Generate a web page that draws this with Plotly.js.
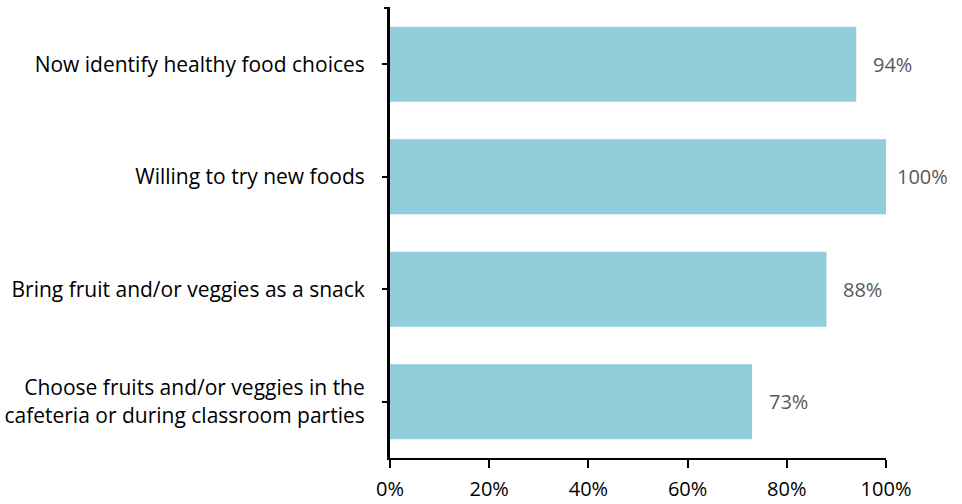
<!DOCTYPE html>
<html>
<head>
<meta charset="utf-8">
<script src="https://cdn.plot.ly/plotly-3.0.1.min.js"></script>
<style>html,body{margin:0;padding:0;background:#fff;}#chart{width:962px;height:504px;}</style>
</head>
<body>
<div id="chart"></div>
<script>
const categories = [
  "Now identify healthy food choices",
  "Willing to try new foods",
  "Bring fruit and/or veggies as a snack",
  "Choose fruits and/or veggies in the<br>cafeteria or during classroom parties"
];
const values = [0.94, 1.00, 0.88, 0.73];
const valueLabels = ["94%", "100%", "88%", "73%"];
const xTickVals = [0, 0.2, 0.4, 0.6, 0.8, 1.0];
const xTickText = ["0%", "20%", "40%", "60%", "80%", "100%"];

const FONT = "'Open Sans', Lato, sans-serif";

const trace = {
  type: "bar",
  orientation: "h",
  y: categories,
  x: values,
  marker: {color: "#92CDDC", line: {width: 0}},
  hoverinfo: "none"
};

const annotations = values.map((v, i) => ({
  x: v, y: categories[i], xref: "x", yref: "y",
  text: valueLabels[i], showarrow: false,
  xanchor: "center", xshift: 36,
  font: {family: FONT, size: 20, color: "#595959"}
}));

const layout = {
  width: 962, height: 504,
  margin: {l: 390, r: 76, t: 8, b: 46, pad: 0},
  paper_bgcolor: "#fff", plot_bgcolor: "#fff",
  showlegend: false,
  bargap: 0.333,
  font: {family: FONT, size: 20, color: "#000"},
  xaxis: {
    range: [0, 1], tickvals: xTickVals, ticktext: xTickText,
    showgrid: false, zeroline: false,
    showline: true, linecolor: "#000", linewidth: 2,
    ticks: "outside", ticklen: 8, tickwidth: 2, tickcolor: "#000",
    ticklabelstandoff: 4,
    tickfont: {family: FONT, size: 20, color: "#000"},
    fixedrange: true
  },
  yaxis: {
    autorange: "reversed",
    showgrid: false, zeroline: false,
    showline: true, linecolor: "#000", linewidth: 3,
    ticks: "outside", ticklen: 5, tickwidth: 2, tickcolor: "#000",
    ticklabelstandoff: 13,
    tickfont: {family: FONT, size: 21, color: "#000"},
    fixedrange: true
  },
  annotations: annotations,
  shapes: [{
    type: "line", xref: "paper", yref: "paper",
    x0: -0.012, x1: 0, y0: 1, y1: 1,
    line: {color: "#000", width: 2}
  }]
};

Plotly.newPlot("chart", [trace], layout, {displayModeBar: false, staticPlot: true});
</script>
</body>
</html>
